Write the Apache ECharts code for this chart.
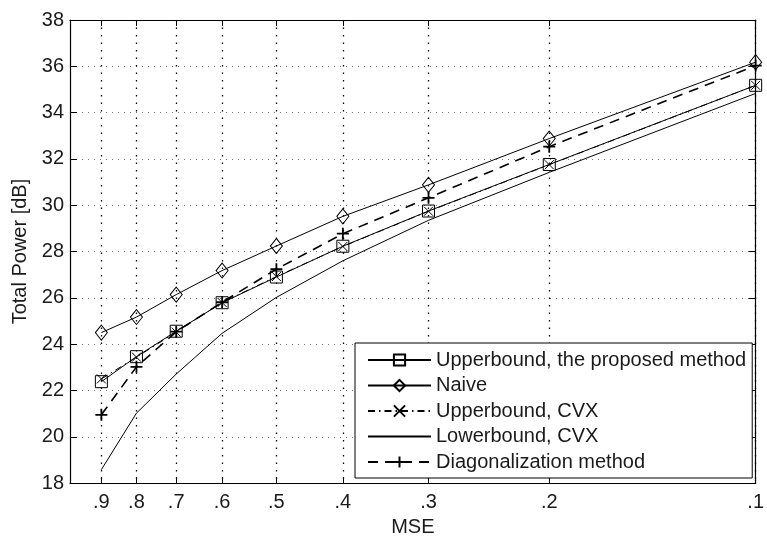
<!DOCTYPE html>
<html><head><meta charset="utf-8">
<script src="https://cdn.jsdelivr.net/npm/echarts@6/dist/echarts.min.js"></script>
<style>html,body{margin:0;padding:0;background:#fff}#c{width:767px;height:542px}</style>
</head><body><div id="c"></div>
<script>
// ---- data ----
const mse = [0.9, 0.8, 0.7, 0.6, 0.5, 0.4, 0.3, 0.2, 0.1];
const tickValues = [0.9, 0.8, 0.7, 0.6, 0.5, 0.4, 0.3, 0.2, 0.1];
const tickLabels = ['.9', '.8', '.7', '.6', '.5', '.4', '.3', '.2', '.1'];
const proposed  = [22.38, 23.46, 24.56, 25.79, 26.90, 28.23, 29.75, 31.76, 35.18];
const naive     = [24.50, 25.17, 26.14, 27.18, 28.24, 29.52, 30.88, 32.88, 36.18];
const cvxUpper  = [22.50, 23.44, 24.52, 25.80, 26.92, 28.22, 29.74, 31.75, 35.18];
const cvxLower  = [18.58, 21.02, 22.71, 24.47, 26.02, 27.60, 29.35, 31.42, 34.83];
const diagMeth  = [20.95, 23.02, 24.54, 25.81, 27.24, 28.77, 30.32, 32.53, 36.03];
const seriesNames = ['Upperbound, the proposed method', 'Naive', 'Upperbound, CVX', 'Lowerbound, CVX', 'Diagonalization method'];
const yTitle = 'Total Power [dB]';
const xTitle = 'MSE';

// ---- chart ----
const FONT = '"Liberation Sans", Arial, Helvetica, sans-serif';
const FS = 20;
const TXT = '#1a1a1a';
const pair = arr => mse.map((m, i) => [m, arr[i]]);
const fmtX = v => {
  let best = 0, d = Infinity;
  tickValues.forEach((t, i) => { const dd = Math.abs(t - v); if (dd < d) { d = dd; best = i; } });
  return tickLabels[best];
};
const hollow = { color: 'rgba(0,0,0,0)', borderColor: '#000', borderWidth: 1 };
const xAxisBase = {
  type: 'log', logBase: 10, min: 0.1, max: 1, inverse: true,
  axisLine: { show: true, onZero: false, lineStyle: { color: '#000', width: 1.2 } },
  axisTick: { show: true, inside: true, length: 6, customValues: tickValues, lineStyle: { color: '#000', width: 1 } },
  minorTick: { show: false }, minorSplitLine: { show: false }
};
const yAxisBase = {
  type: 'value', min: 18, max: 38, interval: 2,
  axisLine: { show: true, onZero: false, lineStyle: { color: '#000', width: 1.2 } },
  axisTick: { show: true, inside: true, length: 7, lineStyle: { color: '#000', width: 1 } }
};
const chart = echarts.init(document.getElementById('c'), null, { renderer: 'canvas' });
chart.setOption({
  animation: false,
  backgroundColor: '#fff',
  textStyle: { fontFamily: FONT },
  grid: { left: 70, right: 8, top: 20, bottom: 49, containLabel: false },
  xAxis: [
    Object.assign({}, xAxisBase, {
      position: 'bottom',
      name: xTitle, nameLocation: 'middle', nameGap: 31,
      nameTextStyle: { fontSize: FS, color: TXT, fontFamily: FONT },
      axisLabel: { show: true, customValues: tickValues, formatter: fmtX, margin: 9, fontSize: FS, color: TXT, fontFamily: FONT },
      splitLine: { show: true, lineStyle: { color: '#000', width: 1.3, type: [1.5, 6] } }
    }),
    Object.assign({}, xAxisBase, {
      position: 'top',
      axisLabel: { show: false },
      splitLine: { show: false }
    })
  ],
  yAxis: [
    Object.assign({}, yAxisBase, {
      position: 'left',
      name: yTitle, nameLocation: 'middle', nameGap: 37, nameRotate: 90,
      nameTextStyle: { fontSize: FS, color: TXT, fontFamily: FONT },
      axisLabel: { show: true, margin: 6, fontSize: FS, color: TXT, fontFamily: FONT },
      splitLine: { show: true, lineStyle: { color: '#777', width: 1, type: [1, 5] } }
    }),
    Object.assign({}, yAxisBase, {
      position: 'right',
      axisLabel: { show: false },
      splitLine: { show: false }
    })
  ],
  legend: {
    show: true, orient: 'vertical', left: 355, top: 343,
    backgroundColor: '#fff', borderColor: '#000', borderWidth: 1,
    padding: [7, 6, 6, 12], itemGap: 5.5, itemWidth: 63, itemHeight: 14,
    selectedMode: false,
    textStyle: { fontSize: FS, color: TXT, fontFamily: FONT, lineHeight: 20 },
    data: seriesNames
  },
  series: [
    {
      name: seriesNames[3], type: 'line', data: pair(cvxLower), symbol: 'none',
      lineStyle: { color: '#000', width: 1 },
      itemStyle: { color: 'rgba(0,0,0,0)', borderColor: 'rgba(0,0,0,0)', borderWidth: 0 }
    },
    {
      name: seriesNames[4], type: 'line', data: pair(diagMeth),
      symbol: 'path://M5,0L5,10M0,5L10,5', symbolSize: 12, symbolKeepAspect: true,
      lineStyle: { color: '#000', width: 1.6, type: [10, 7] },
      itemStyle: { color: 'rgba(0,0,0,0)', borderColor: '#000', borderWidth: 1.8 }
    },
    {
      name: seriesNames[1], type: 'line', data: pair(naive),
      symbol: 'diamond', symbolSize: [12, 15],
      lineStyle: { color: '#000', width: 1 }, itemStyle: hollow
    },
    {
      name: seriesNames[0], type: 'line', data: pair(proposed),
      symbol: 'rect', symbolSize: 12,
      lineStyle: { color: '#000', width: 1 }, itemStyle: hollow
    },
    {
      name: seriesNames[2], type: 'line', data: pair(cvxUpper),
      symbol: 'path://M0,0L10,10M0,10L10,0', symbolSize: 9, symbolKeepAspect: true,
      lineStyle: { color: '#000', width: 1, type: [7, 4, 1.5, 4] },
      itemStyle: { color: 'rgba(0,0,0,0)', borderColor: '#000', borderWidth: 1 }
    }
  ]
});
</script></body></html>
